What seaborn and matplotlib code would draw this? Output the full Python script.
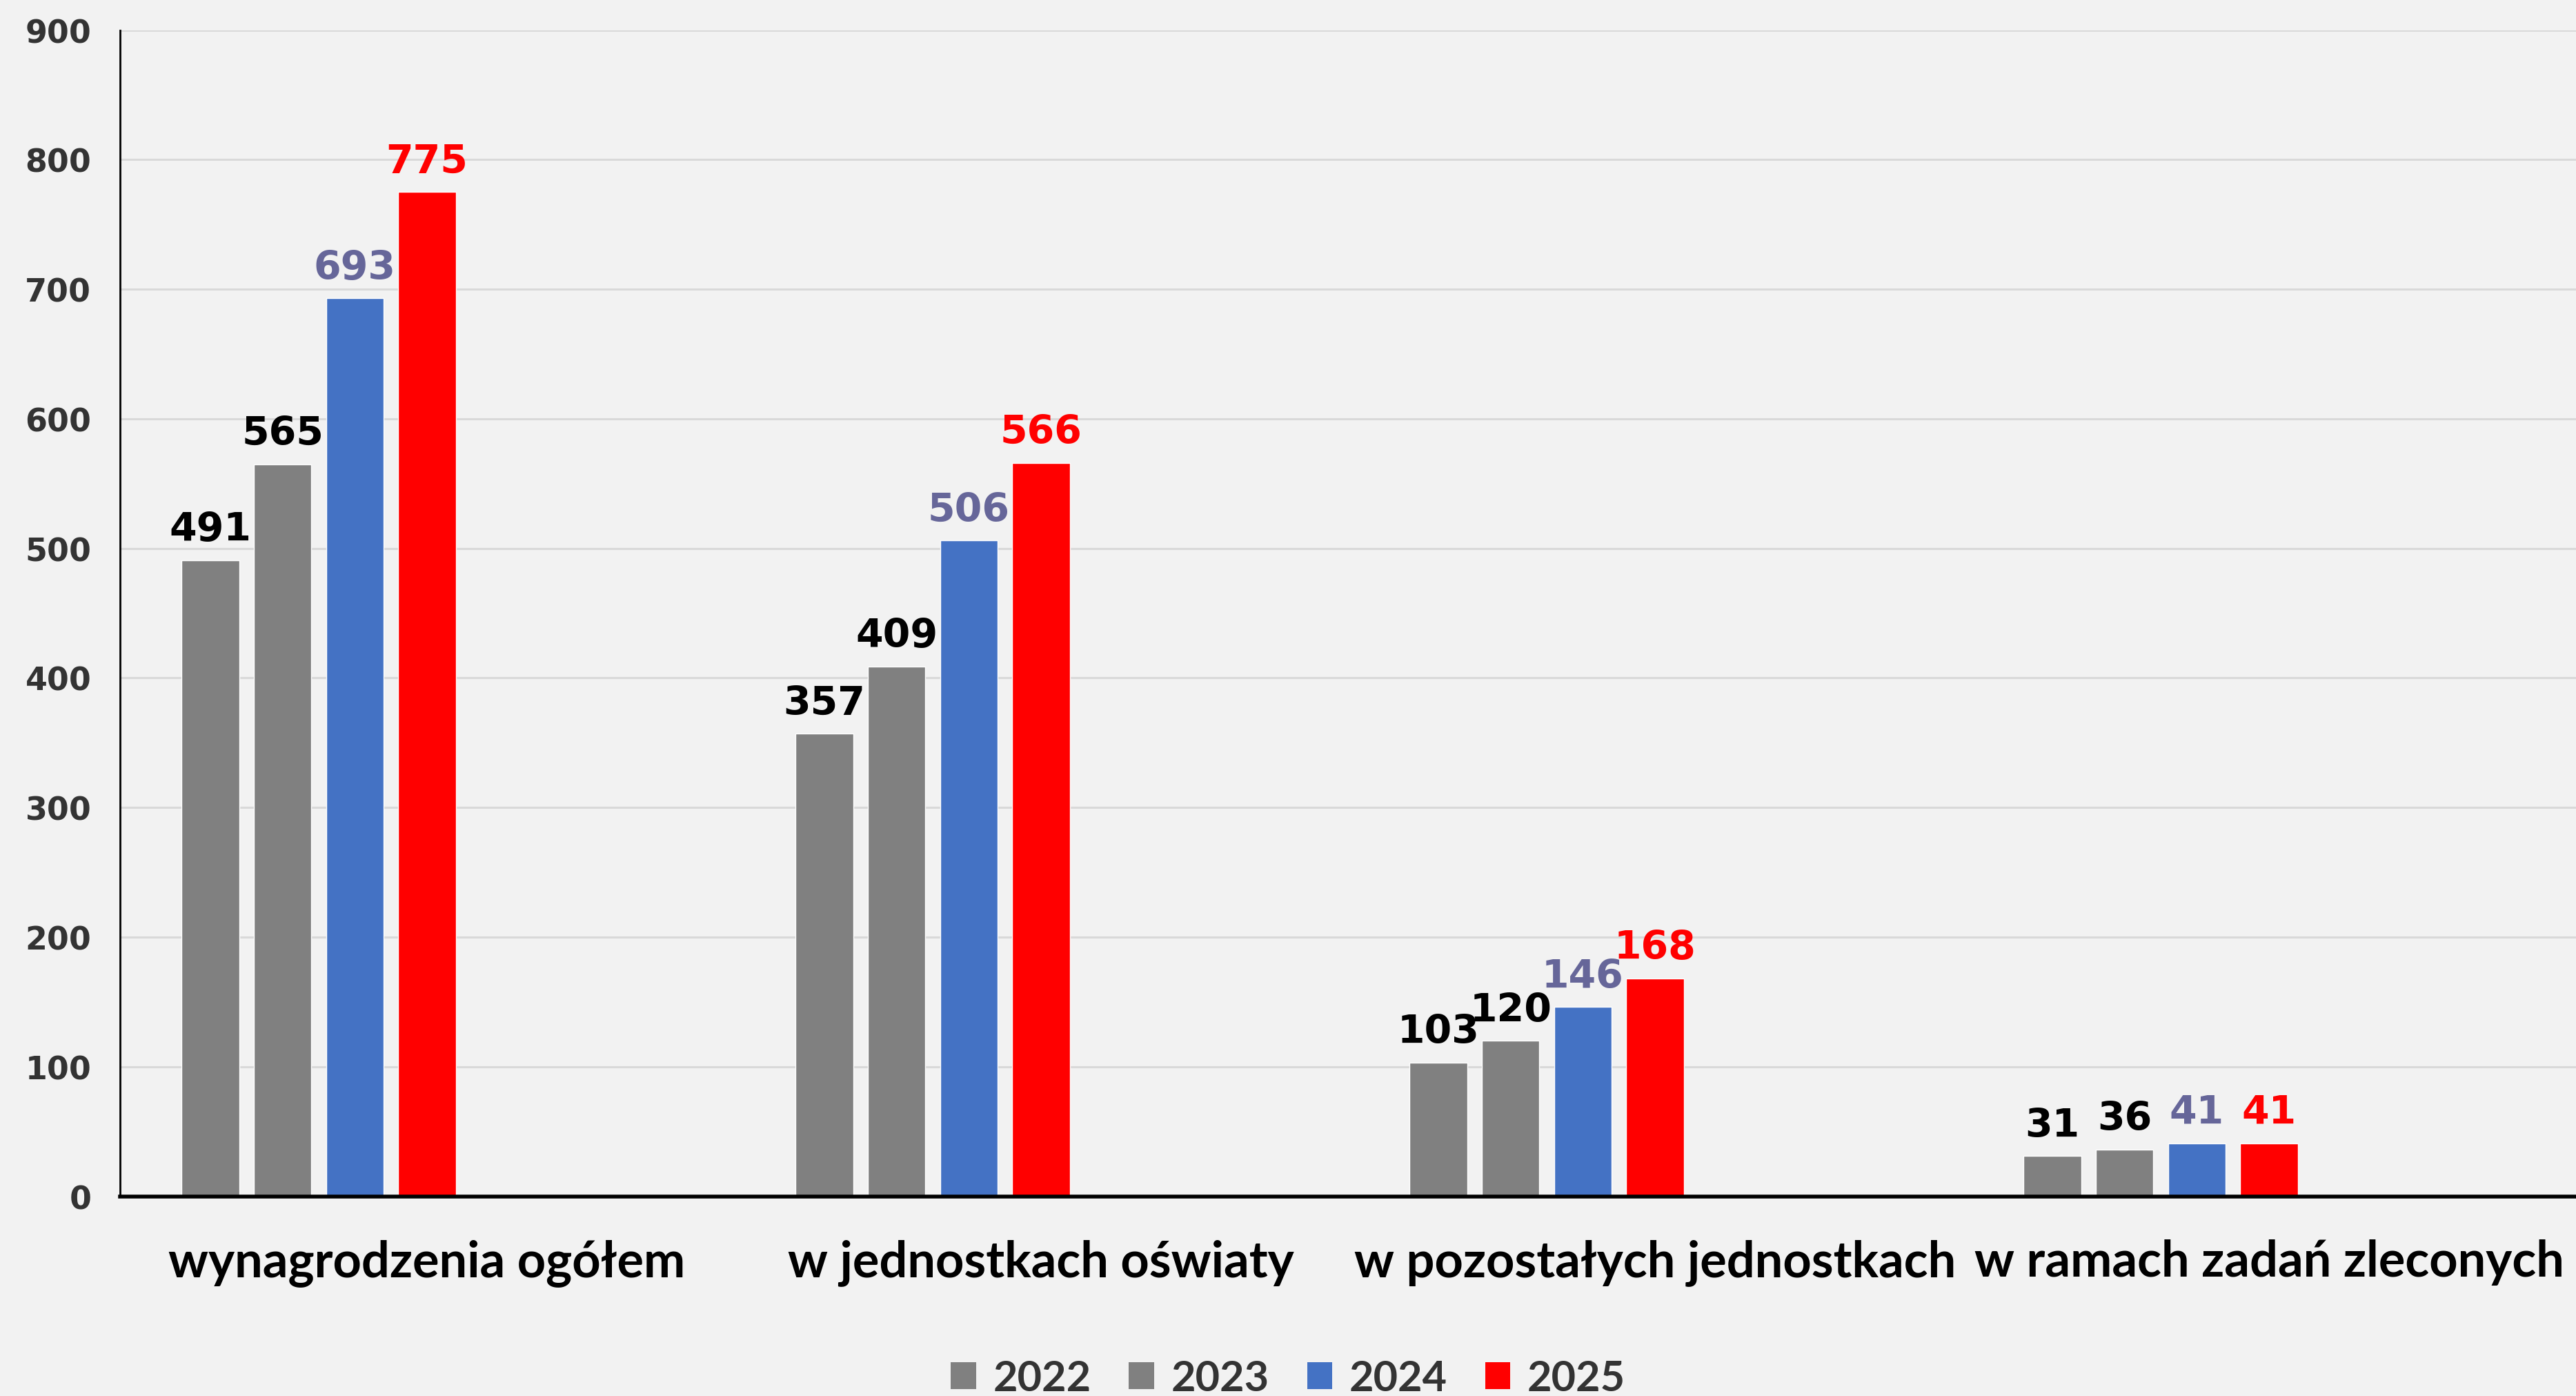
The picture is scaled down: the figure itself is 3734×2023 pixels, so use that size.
import pandas as pd
import seaborn as sns
import matplotlib.pyplot as plt
from matplotlib.patches import Patch

# dane
categories = ['wynagrodzenia ogółem', 'w jednostkach oświaty',
              'w pozostałych jednostkach', 'w ramach zadań zleconych']
years = ['2022', '2023', '2024', '2025']
v2022 = [491, 357, 103, 31]
v2023 = [565, 409, 120, 36]
v2024 = [693, 506, 146, 41]
v2025 = [775, 566, 168, 41]
y_ticks = [0, 100, 200, 300, 400, 500, 600, 700, 800, 900]

bar_colors = ['#808080', '#808080', '#4472c4', '#ff0000']
label_colors = ['#000000', '#000000', '#666699', '#ff0000']
# puste serie (jak w Excelu) - rezerwuja miejsce w grupie
empty = [' ', '  ', '   ']

rows = []
for y, vals in zip(years, [v2022, v2023, v2024, v2025]):
    for c, v in zip(categories, vals):
        rows.append({'kategoria': c, 'rok': y, 'wartosc': v})
df = pd.DataFrame(rows)

palette = dict(zip(years, bar_colors))
for e in empty:
    palette[e] = '#f2f2f2'

sns.set_style('white')
plt.rcParams['font.family'] = ['DejaVu Sans']

fig, ax = plt.subplots(figsize=(37.34, 20.24), dpi=100)
fig.patch.set_facecolor('#f2f2f2')
ax.set_facecolor('#f2f2f2')
fig.subplots_adjust(left=0.0466, right=1.0, top=0.978, bottom=0.143)

sns.barplot(data=df, x='kategoria', y='wartosc', hue='rok',
            hue_order=years + empty, palette=palette, order=categories,
            width=0.823, gap=0.204, saturation=1, legend=False,
            errorbar=None, ax=ax)

# etykiety danych
for cont, col in zip(ax.containers, label_colors):
    ax.bar_label(cont, labels=[f'{int(b.get_height())}' for b in cont],
                 color=col, fontsize=41, fontweight='heavy', padding=12)

ax.set_xlim(-0.5, 3.5)
ax.set_ylim(0, 900)
ax.set_yticks(y_ticks)
ax.set_yticklabels([str(t) for t in y_ticks], fontsize=33, fontweight='bold',
                   color='#333333')
ax.tick_params(axis='y', length=0, pad=30)
ax.tick_params(axis='x', length=0, pad=44)
for lab in ax.get_xticklabels():
    lab.set_family(['Lato', 'DejaVu Sans'])
    lab.set_fontsize(52)
    lab.set_fontweight('bold')
    lab.set_color('#000000')

ax.yaxis.grid(True, color='#d9d9d9', linewidth=2.2)
ax.set_axisbelow(True)
for s in ['top', 'right']:
    ax.spines[s].set_visible(False)
ax.spines['left'].set_color('#000000')
ax.spines['left'].set_linewidth(2)
ax.spines['bottom'].set_color('#000000')
ax.spines['bottom'].set_linewidth(4)
ax.set_xlabel('')
ax.set_ylabel('')

handles = [Patch(facecolor=c, edgecolor='none') for c in bar_colors]
fig.legend(handles, years, loc='center', bbox_to_anchor=(0.5, 0.0128), ncol=4,
           frameon=False, prop={'family': ['Lato', 'DejaVu Sans'], 'weight': 'bold', 'size': 44},
           labelcolor='#333333', handlelength=0.6, handleheight=0.6,
           handletextpad=0.4, columnspacing=0.9)

plt.savefig('out.png', dpi=100, facecolor=fig.get_facecolor())
